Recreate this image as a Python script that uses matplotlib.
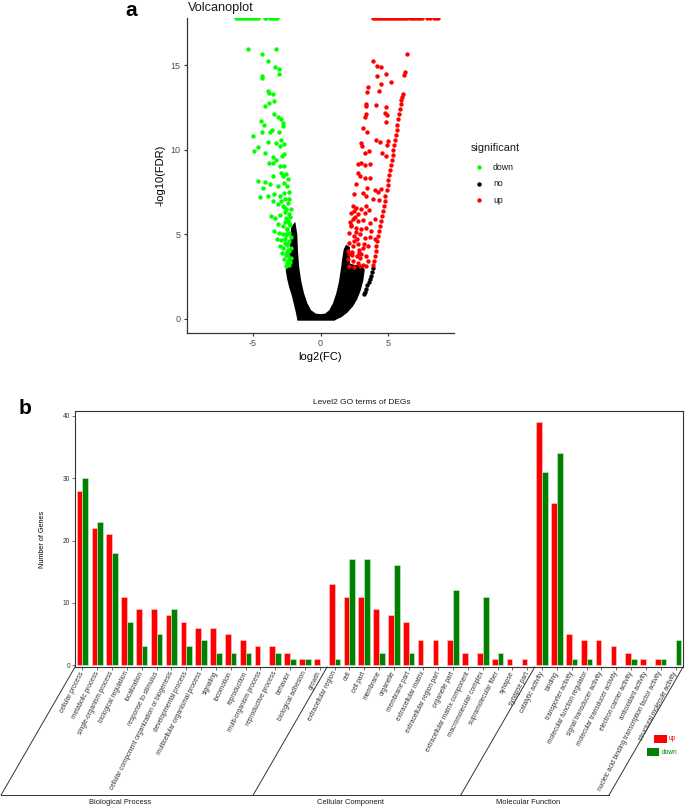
import matplotlib
matplotlib.use("Agg")
import matplotlib.pyplot as plt
import numpy as np
from matplotlib.patches import Rectangle

plt.rcParams['font.family'] = ['Liberation Sans', 'DejaVu Sans']
plt.rcParams['axes.unicode_minus'] = False

# ---------------- Volcano data ----------------
down_x = [-5.40, -4.36, -3.29, -3.91, -3.34, -3.09, -3.09, -4.36, -4.31, -3.91, -3.84, -3.49, -3.42,
          -4.11, -3.79, -3.42, -3.17, -2.92, -2.75, -4.41, -4.21, -3.59, -3.74, -4.36, -3.09, -2.80,
          -5.02, -4.65, -4.90, -4.11, -3.91, -3.29, -2.92, -2.97, -2.67, -3.54, -3.54, -3.29, -2.85,
          -2.67, -3.79, -3.04, -2.67, -2.92, -3.49, -2.80, -2.55, -2.43, -4.65, -4.08, -3.74, -3.17,
          -2.67, -2.50, -4.28, -4.48, -3.91, -3.42, -3.04, -2.67, -2.35, -3.54, -2.92, -2.60, -2.30,
          -3.17, -2.80, -2.43, -2.18, -2.55, -3.66, -3.34, -2.99, -2.55, -2.25, -3.17, -2.80, -2.48,
          -3.42, -3.09, -2.80, -2.55, -2.30, -3.24, -2.92, -2.60, -2.35, -3.04, -2.75, -2.45, -2.85,
          -2.55, -2.30, -2.67, -2.43, -2.55, -2.30, -2.18, -2.40, -2.62, -2.48, -2.33, -2.70, -2.38,
          -2.58, -2.22, -2.45, -2.65, -2.28, -2.52, -2.20, -2.42, -2.35, -2.60, -2.25, -2.50]
down_y = [15.97, 15.67, 15.97, 15.28, 14.88, 14.78, 14.49, 14.35, 14.23, 13.50, 13.34, 13.30, 12.91,
          12.61, 12.75, 12.11, 11.92, 11.82, 11.58, 11.72, 11.46, 11.19, 11.07, 11.03, 11.03, 11.42,
          10.83, 10.20, 9.94, 9.84, 10.47, 10.43, 10.59, 10.24, 10.34, 9.55, 9.25, 9.41, 9.64,
          9.74, 9.25, 9.05, 9.05, 8.66, 8.46, 8.46, 8.56, 8.26, 8.16, 8.10, 7.96, 7.87,
          8.06, 7.87, 7.77, 7.21, 7.27, 7.37, 7.27, 7.47, 7.51, 6.98, 6.98, 7.08, 7.08,
          6.78, 6.68, 6.84, 6.48, 6.48, 6.09, 5.99, 6.13, 5.99, 6.05, 5.59, 5.49, 5.34,
          5.20, 5.10, 5.00, 5.00, 5.10, 4.74, 4.66, 4.70, 4.60, 4.31, 4.21, 4.35, 3.91,
          3.81, 4.01, 3.52, 3.42, 3.12, 3.22, 3.62, 5.80, 6.30, 4.45, 5.65, 6.60, 3.70,
          4.95, 4.20, 5.35, 5.75, 3.35, 3.95, 4.85, 4.05, 6.20, 4.50, 5.55, 3.30]
down_inf_x = [-6.25, -6.1, -5.95, -5.8, -5.65, -5.5, -5.35, -5.2, -5.05, -4.9, -4.75, -4.6,
              -4.15, -4.05, -3.75, -3.6, -3.45, -3.3, -3.2]

up_x = [3.89, 4.21, 4.50, 4.21, 4.88, 5.25, 4.50, 3.51, 4.33, 3.47, 3.34, 3.39, 4.13, 4.88, 4.75,
        4.93, 3.39, 3.27, 4.88, 3.14, 3.47, 4.09, 4.38, 3.02, 3.09, 5.00, 4.95, 3.27, 4.55, 3.59,
        2.77, 3.02, 3.27, 3.69, 4.88, 2.77, 2.90, 3.27, 3.64, 2.65, 3.44, 4.01, 4.50, 2.52, 3.14,
        3.39, 4.26, 3.89, 4.33, 2.40, 2.65, 3.02, 3.39, 3.59, 2.28, 2.77, 3.27, 2.40, 2.77, 3.14,
        3.64, 4.01, 2.28, 2.65, 3.02, 3.39, 3.76, 2.15, 2.52, 2.90, 3.27, 3.64, 4.01, 2.10, 2.40,
        2.77, 3.14, 3.51, 2.03, 2.35, 2.72, 3.02, 3.39, 2.03, 2.40, 2.77, 3.14, 2.15, 2.52, 2.90,
        3.39, 2.20, 2.45, 2.58, 2.85, 2.33, 2.62, 2.95, 2.12, 2.50, 2.70, 2.25, 3.55, 3.20, 2.88]
up_y = [15.28, 14.98, 14.88, 14.39, 14.49, 13.99, 13.89, 13.70, 13.50, 13.44, 12.71, 12.61, 12.65,
        12.51, 12.21, 12.06, 12.11, 11.92, 11.62, 11.32, 11.03, 10.59, 10.47, 10.43, 10.24, 10.53,
        10.30, 9.84, 9.84, 9.94, 9.15, 9.25, 9.09, 9.19, 9.64, 8.66, 8.46, 8.36, 8.36, 7.96,
        7.77, 7.63, 7.67, 7.37, 7.47, 7.27, 7.51, 7.08, 7.02, 6.68, 6.58, 6.48, 6.68, 6.42,
        6.28, 6.19, 6.28, 5.89, 5.79, 5.85, 5.69, 5.89, 5.49, 5.40, 5.30, 5.40, 5.20, 5.10,
        4.90, 5.00, 4.80, 4.86, 4.70, 4.51, 4.31, 4.41, 4.21, 4.31, 4.01, 3.81, 3.72, 3.87,
        3.72, 3.52, 3.42, 3.32, 3.22, 3.12, 3.06, 3.12, 3.12, 5.75, 4.60, 6.05, 4.10, 3.95,
        5.15, 3.60, 3.85, 6.40, 4.75, 5.55, 3.40, 4.45, 3.90]
up_inf_x = [3.9, 4.05, 4.2, 4.35, 4.5, 4.65, 4.8, 4.95, 5.1, 5.25, 5.4, 5.55, 5.7, 5.85, 6.0, 6.15,
            6.3, 6.45, 6.6, 6.75, 6.9, 7.05, 7.2, 7.35, 7.5, 7.9, 8.1, 8.4, 8.6, 8.75]
up_line_x = [3.92, 3.97, 4.02, 4.08, 4.14, 4.20, 4.26, 4.33, 4.40, 4.47, 4.54, 4.61, 4.68, 4.75,
             4.82, 4.90, 4.97, 5.03, 5.10, 5.16, 5.22, 5.28, 5.34, 5.40, 5.46, 5.52, 5.58, 5.64,
             5.70, 5.76, 5.82, 5.88, 5.94, 6.00, 6.06, 6.11, 6.22, 6.26, 6.40]
up_line_y = [3.20, 3.45, 3.72, 4.00, 4.30, 4.60, 4.90, 5.20, 5.50, 5.80, 6.10, 6.40, 6.70, 7.00,
             7.30, 7.60, 7.90, 8.20, 8.50, 8.80, 9.10, 9.40, 9.70, 10.00, 10.30, 10.60, 10.90, 11.20,
             11.50, 11.80, 12.10, 12.40, 12.70, 12.95, 13.15, 13.30, 14.40, 14.60, 15.65]
no_line_x = [3.25, 3.32, 3.40, 3.48, 3.56, 3.64, 3.72, 3.80, 3.87]
no_line_y = [1.45, 1.62, 1.80, 1.98, 2.16, 2.36, 2.56, 2.78, 3.00]
no_area_x = [-1.60, -1.70, -1.85, -2.00, -2.20, -2.35, -2.45, -2.35, -2.22, -2.16, -2.10, -2.05,
             -1.95, -1.85, -1.80, -1.70, -1.55, -1.35, -1.10, -0.80, -0.40, 0.00, 0.40, 0.75,
             1.05, 1.30, 1.50, 1.65, 1.75, 1.85, 1.95, 2.05, 2.05, 2.50, 3.00, 3.15, 3.05, 2.85,
             2.60, 2.30, 1.90, 1.50, 1.10, 1.00]
no_area_y = [0.00, 0.40, 0.90, 1.40, 1.90, 2.40, 2.90, 3.10, 3.50, 4.00, 4.60, 5.40,
             5.50, 5.00, 4.00, 3.00, 2.20, 1.50, 0.90, 0.45, 0.22, 0.18, 0.22, 0.45,
             0.90, 1.50, 2.20, 3.00, 3.60, 4.10, 4.25, 4.20, 3.20, 3.10, 3.05, 2.90, 2.30, 1.70,
             1.20, 0.80, 0.45, 0.20, 0.05, 0.00]

sig_labels = ['down', 'no', 'up']
sig_colors = ['#00FF00', '#000000', '#FF0000']

# ---------------- GO bar data ----------------
bp_terms = ['cellular process', 'metabolic process', 'single-organism process', 'biological regulation',
            'localization', 'response to stimulus', 'cellular component organization or biogenesis',
            'developmental process', 'multicellular organismal process', 'signaling', 'locomotion',
            'reproduction', 'multi-organism process', 'reproductive process', 'behavior',
            'biological adhesion', 'growth']
bp_up = [28, 22, 21, 11, 9, 9, 8, 7, 6, 6, 5, 4, 3, 3, 2, 1, 1]
bp_down = [30, 23, 18, 7, 3, 5, 9, 3, 4, 2, 2, 2, 0, 2, 1, 1, 0]
cc_terms = ['extracellular region', 'cell', 'cell part', 'membrane', 'organelle', 'membrane part',
            'extracellular matrix', 'extracellular region part', 'organelle part',
            'extracellular matrix component', 'macromolecular complex', 'supramolecular fiber',
            'synapse', 'synapse part']
cc_up = [13, 11, 11, 9, 8, 7, 4, 4, 4, 2, 2, 1, 1, 1]
cc_down = [1, 17, 17, 2, 16, 2, 0, 0, 12, 0, 11, 2, 0, 0]
mf_terms = ['catalytic activity', 'binding', 'transporter activity', 'molecular function regulator',
            'signal transducer activity', 'molecular transducer activity', 'electron carrier activity',
            'antioxidant activity', 'nucleic acid binding transcription factor activity',
            'structural molecule activity']
mf_up = [39, 26, 5, 4, 4, 3, 2, 1, 1, 0]
mf_down = [31, 34, 1, 1, 0, 0, 1, 0, 1, 4]
groups = ['Biological Process', 'Cellular Component', 'Molecular Function']

W, H = 685, 808
fig = plt.figure(figsize=(W / 100, H / 100), dpi=100)


def px_axes(l, t, r, b):
    return fig.add_axes([l / W, 1 - b / H, (r - l) / W, (b - t) / H])


# ---------------- Volcano plot ----------------
ax1 = px_axes(187, 18, 454, 333)
YMAX = 17.8
ax1.fill(no_area_x, no_area_y, facecolor='black', edgecolor='black', lw=2.5, zorder=2)
ax1.scatter(no_line_x, no_line_y, s=10, c='black', linewidths=0, zorder=2)
ax1.scatter(down_x, down_y, s=10, c=sig_colors[0], linewidths=0, zorder=3)
ax1.scatter(up_x, up_y, s=10, c=sig_colors[2], linewidths=0, zorder=3)
ax1.scatter(up_line_x, up_line_y, s=10, c=sig_colors[2], linewidths=0, zorder=3)
ax1.scatter(down_inf_x, [YMAX] * len(down_inf_x), s=10, c=sig_colors[0], linewidths=0, zorder=3)
ax1.scatter(up_inf_x, [YMAX] * len(up_inf_x), s=10, c=sig_colors[2], linewidths=0, zorder=3)
ax1.set_xlim(-9.9, 9.9)
ax1.set_ylim(-0.83, YMAX)
ax1.set_xticks([-5, 0, 5])
ax1.set_yticks([0, 5, 10, 15])
for s in ['top', 'right']:
    ax1.spines[s].set_visible(False)
for s in ['left', 'bottom']:
    ax1.spines[s].set_color('#333333')
    ax1.spines[s].set_linewidth(0.9)
ax1.tick_params(length=2.5, width=0.8, color='#333333', labelcolor='#4D4D4D', labelsize=6.5, pad=2)
ax1.set_xlabel('log2(FC)', fontsize=8, labelpad=3)
ax1.set_ylabel('-log10(FDR)', fontsize=8, labelpad=4)

# ---------------- GO bar chart ----------------
terms = bp_terms + cc_terms + mf_terms
up = np.array(bp_up + cc_up + mf_up)
down = np.array(bp_down + cc_down + mf_down)
idx = np.arange(len(terms))
ax2 = px_axes(75, 411, 683, 667)
bw = 0.385
mu = up > 0
md = down > 0
ax2.bar(idx[mu] - bw / 2, up[mu], width=bw, color='#FF0000', edgecolor='#FFD0D0', linewidth=0.4)
ax2.bar(idx[md] + bw / 2, down[md], width=bw, color='#008000', edgecolor='#D0F0D0', linewidth=0.4)
ax2.set_xlim(-0.5, len(terms) - 0.5)
ax2.set_ylim(-0.3, 40.8)
ax2.set_yticks([0, 10, 20, 30, 40])
ax2.set_xticks(idx)
ax2.set_xticklabels(terms, rotation=63, ha='right', va='center', rotation_mode='anchor',
                    fontsize=4.3, color='#333333')
ax2.tick_params(length=2, width=0.5, color='#333333', labelsize=4.7, pad=1.5)
ax2.tick_params(axis='y', labelcolor='#333333')
for s in ax2.spines.values():
    s.set_color('#333333')
    s.set_linewidth(0.8)
ax2.set_ylabel('Number of Genes', fontsize=5.2)
ax2.yaxis.set_label_coords((46 - 75) / 608, 0.5)

# ---------------- overlay (pixel coordinates) ----------------
ov = fig.add_axes([0, 0, 1, 1])
ov.set_xlim(0, W)
ov.set_ylim(H, 0)
ov.axis('off')
ov.patch.set_alpha(0)

ov.text(131, 11, 'a', fontsize=15, fontweight='bold', ha='center', va='center')
ov.text(25, 409, 'b', fontsize=15, fontweight='bold', ha='center', va='center')
ov.text(188, 8, 'Volcanoplot', fontsize=9.2, ha='left', va='center', color='#1a1a1a')

# volcano legend
ov.text(471, 148, 'significant', fontsize=7.8, ha='left', va='center', color='#1a1a1a')
for i, (lab, col) in enumerate(zip(sig_labels, sig_colors)):
    yy = 167 + i * 16.7
    ov.scatter([479], [yy], s=10, c=col, linewidths=0)
    ov.text(493, yy, lab, fontsize=6.3, ha='left', va='center', color='#1a1a1a')

# bar title
ov.text(362, 403, 'Level2 GO terms of DEGs', fontsize=6, ha='center', va='center', color='#1a1a1a')

# group brackets
n_groups = [len(bp_terms), len(cc_terms), len(mf_terms)]
bounds = np.concatenate([[0], np.cumsum(n_groups)]) - 0.5
y_top = 667
y_bot = 795
dxs = (y_bot - y_top) / np.tan(np.radians(60))
bx = []
for b in bounds:
    xd, _ = ax2.transData.transform((b, 0))
    bx.append(xd)
for xb in bx:
    ov.plot([xb, xb - dxs], [y_top, y_bot], color='#333333', lw=0.7)
ov.plot([bx[0] - dxs, bx[-1] - dxs], [y_bot, y_bot], color='#333333', lw=0.7)
for g, name in enumerate(groups):
    cx = (bx[g] + bx[g + 1]) / 2 - dxs - 7
    ov.text(cx, 803, name, fontsize=5.4, ha='center', va='center', color='#1a1a1a')

# bar legend
ov.add_patch(Rectangle((654, 735), 13, 8, facecolor='#FF0000', edgecolor='none'))
ov.text(669, 739, 'up', fontsize=4.7, color='#FF0000', ha='left', va='center')
ov.add_patch(Rectangle((647, 748), 12, 8, facecolor='#008000', edgecolor='none'))
ov.text(662, 752, 'down', fontsize=4.7, color='#008000', ha='left', va='center')

fig.savefig('out.png', dpi=100)
